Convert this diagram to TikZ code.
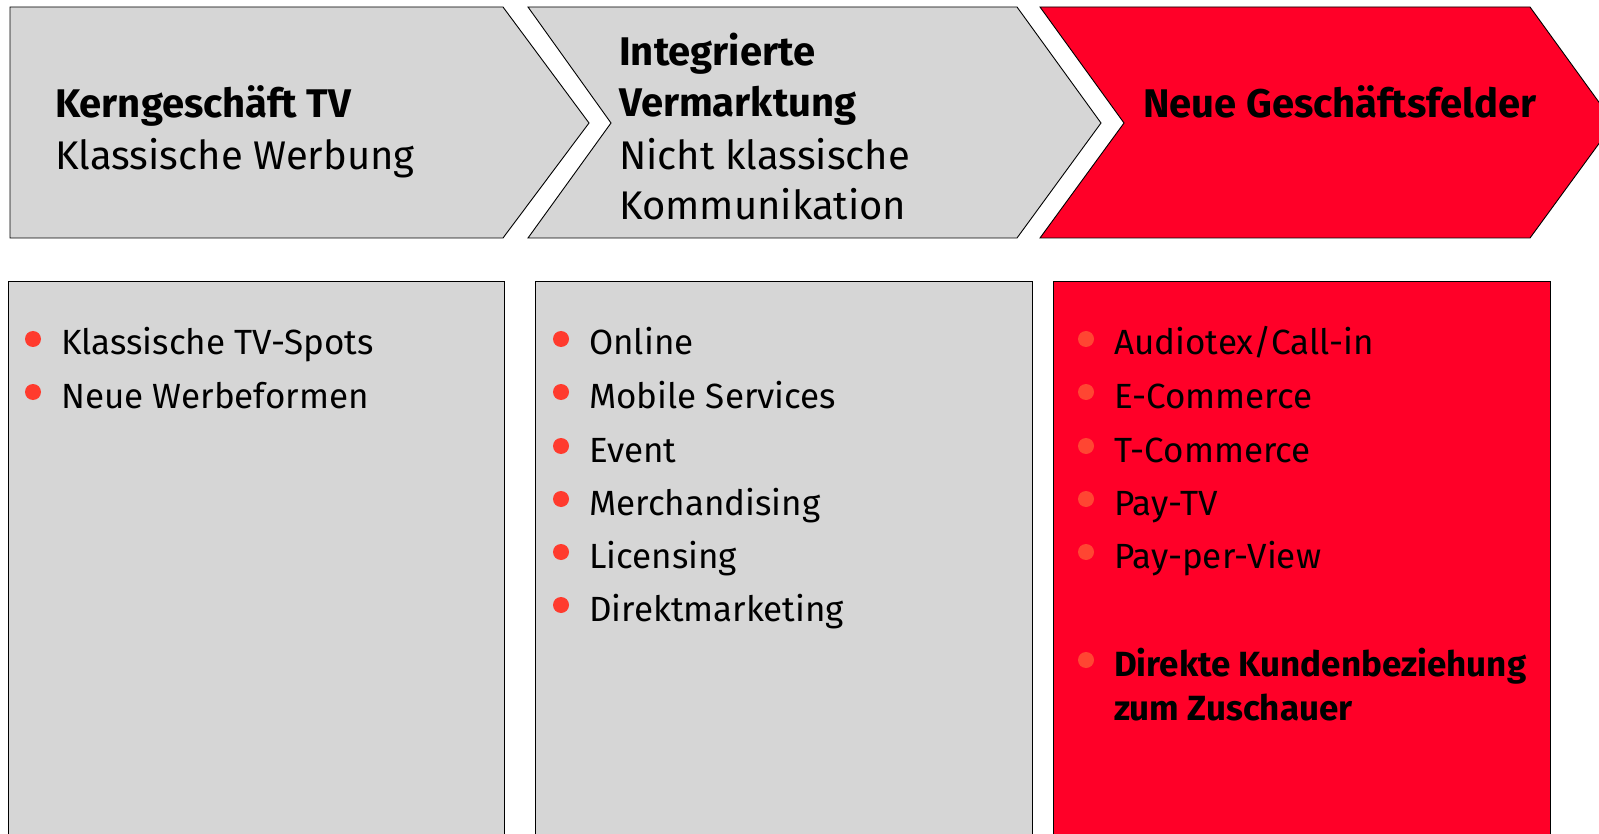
\documentclass[tikz,border=0pt]{standalone}
\usepackage{fontspec}
\setmainfont{Fira Sans}

\definecolor{boxgray}{HTML}{D6D6D6}
\definecolor{fieldred}{HTML}{FF0028}
\definecolor{dotred}{HTML}{FF3B2E}
\definecolor{dotlight}{HTML}{FF4632}

\tikzset{
	head/.style={anchor=base west, inner sep=0pt, font=\fontsize{40}{48}\selectfont},
	item/.style={anchor=base west, inner sep=0pt, font=\fontsize{35}{42}\selectfont},
	panel/.style={draw=black, line width=0.9pt},
}

\begin{document}
\begin{tikzpicture}[x=1pt, y=-1pt]
	\useasboundingbox (0,0) rectangle (1599,834);
	\clip (0,0) rectangle (1599,834);

	% chevrons
	\filldraw[panel, fill=boxgray] (10,7) -- (503,7) -- (589,123) -- (503,238) -- (10,238) -- cycle;
	\filldraw[panel, fill=boxgray] (528,7) -- (1017,7) -- (1101,123) -- (1017,238) -- (528,238) -- (611,123) -- cycle;
	\filldraw[panel, fill=fieldred] (1040,7) -- (1530,7) -- (1614,123) -- (1530,238) -- (1040,238) -- (1124,123) -- cycle;

	\node[head] (kern) at (55,118) {\textbf{Kerngeschäft TV}};
	\node[head] (klass) at (55,170) {Klassische Werbung};
	\node[head] (integ) at (619,66) {\textbf{Integrierte}};
	\node[head] (verm) at (619,117) {\textbf{Vermarktung}};
	\node[head] (nicht) at (619,170) {Nicht klassische};
	\node[head] (komm) at (619,220) {Kommunikation};
	\node[head] (neue) at (1143,118) {\textbf{Neue Geschäftsfelder}};

	% boxes below
	\filldraw[panel, fill=boxgray] (8,850) -- (8,281) -- (504,281) -- (504,850);
	\filldraw[panel, fill=boxgray] (535,850) -- (535,281) -- (1032,281) -- (1032,850);
	\filldraw[panel, fill=fieldred] (1053,850) -- (1053,281) -- (1550,281) -- (1550,850);

	\foreach \y/\txt [count=\i] in {355/{Klassische TV-Spots}, 408/{Neue Werbeformen}} {
		\fill[dotred] (33,\y-16) circle[radius=8];
		\node[item] (tv\i) at (61,\y) {\txt};
	}
	\foreach \y/\txt [count=\i] in {355/{Online}, 408/{Mobile Services}, 462/{Event}, 515/{Merchandising}, 568/{Licensing}, 621/{Direktmarketing}} {
		\fill[dotred] (561,\y-16) circle[radius=8];
		\node[item] (iv\i) at (589,\y) {\txt};
	}
	\foreach \y/\txt [count=\i] in {355/{Audiotex/Call-in}, 408/{E-Commerce}, 462/{T-Commerce}, 515/{Pay-TV}, 568/{Pay-per-View}} {
		\fill[dotlight] (1086,\y-16) circle[radius=8];
		\node[item] (nf\i) at (1114,\y) {\txt};
	}
	\fill[dotlight] (1086,660) circle[radius=8];
	\node[item] (dir) at (1114,676) {\textbf{Direkte Kundenbeziehung}};
	\node[item] (zus) at (1114,720) {\textbf{zum Zuschauer}};
\end{tikzpicture}
\end{document}
